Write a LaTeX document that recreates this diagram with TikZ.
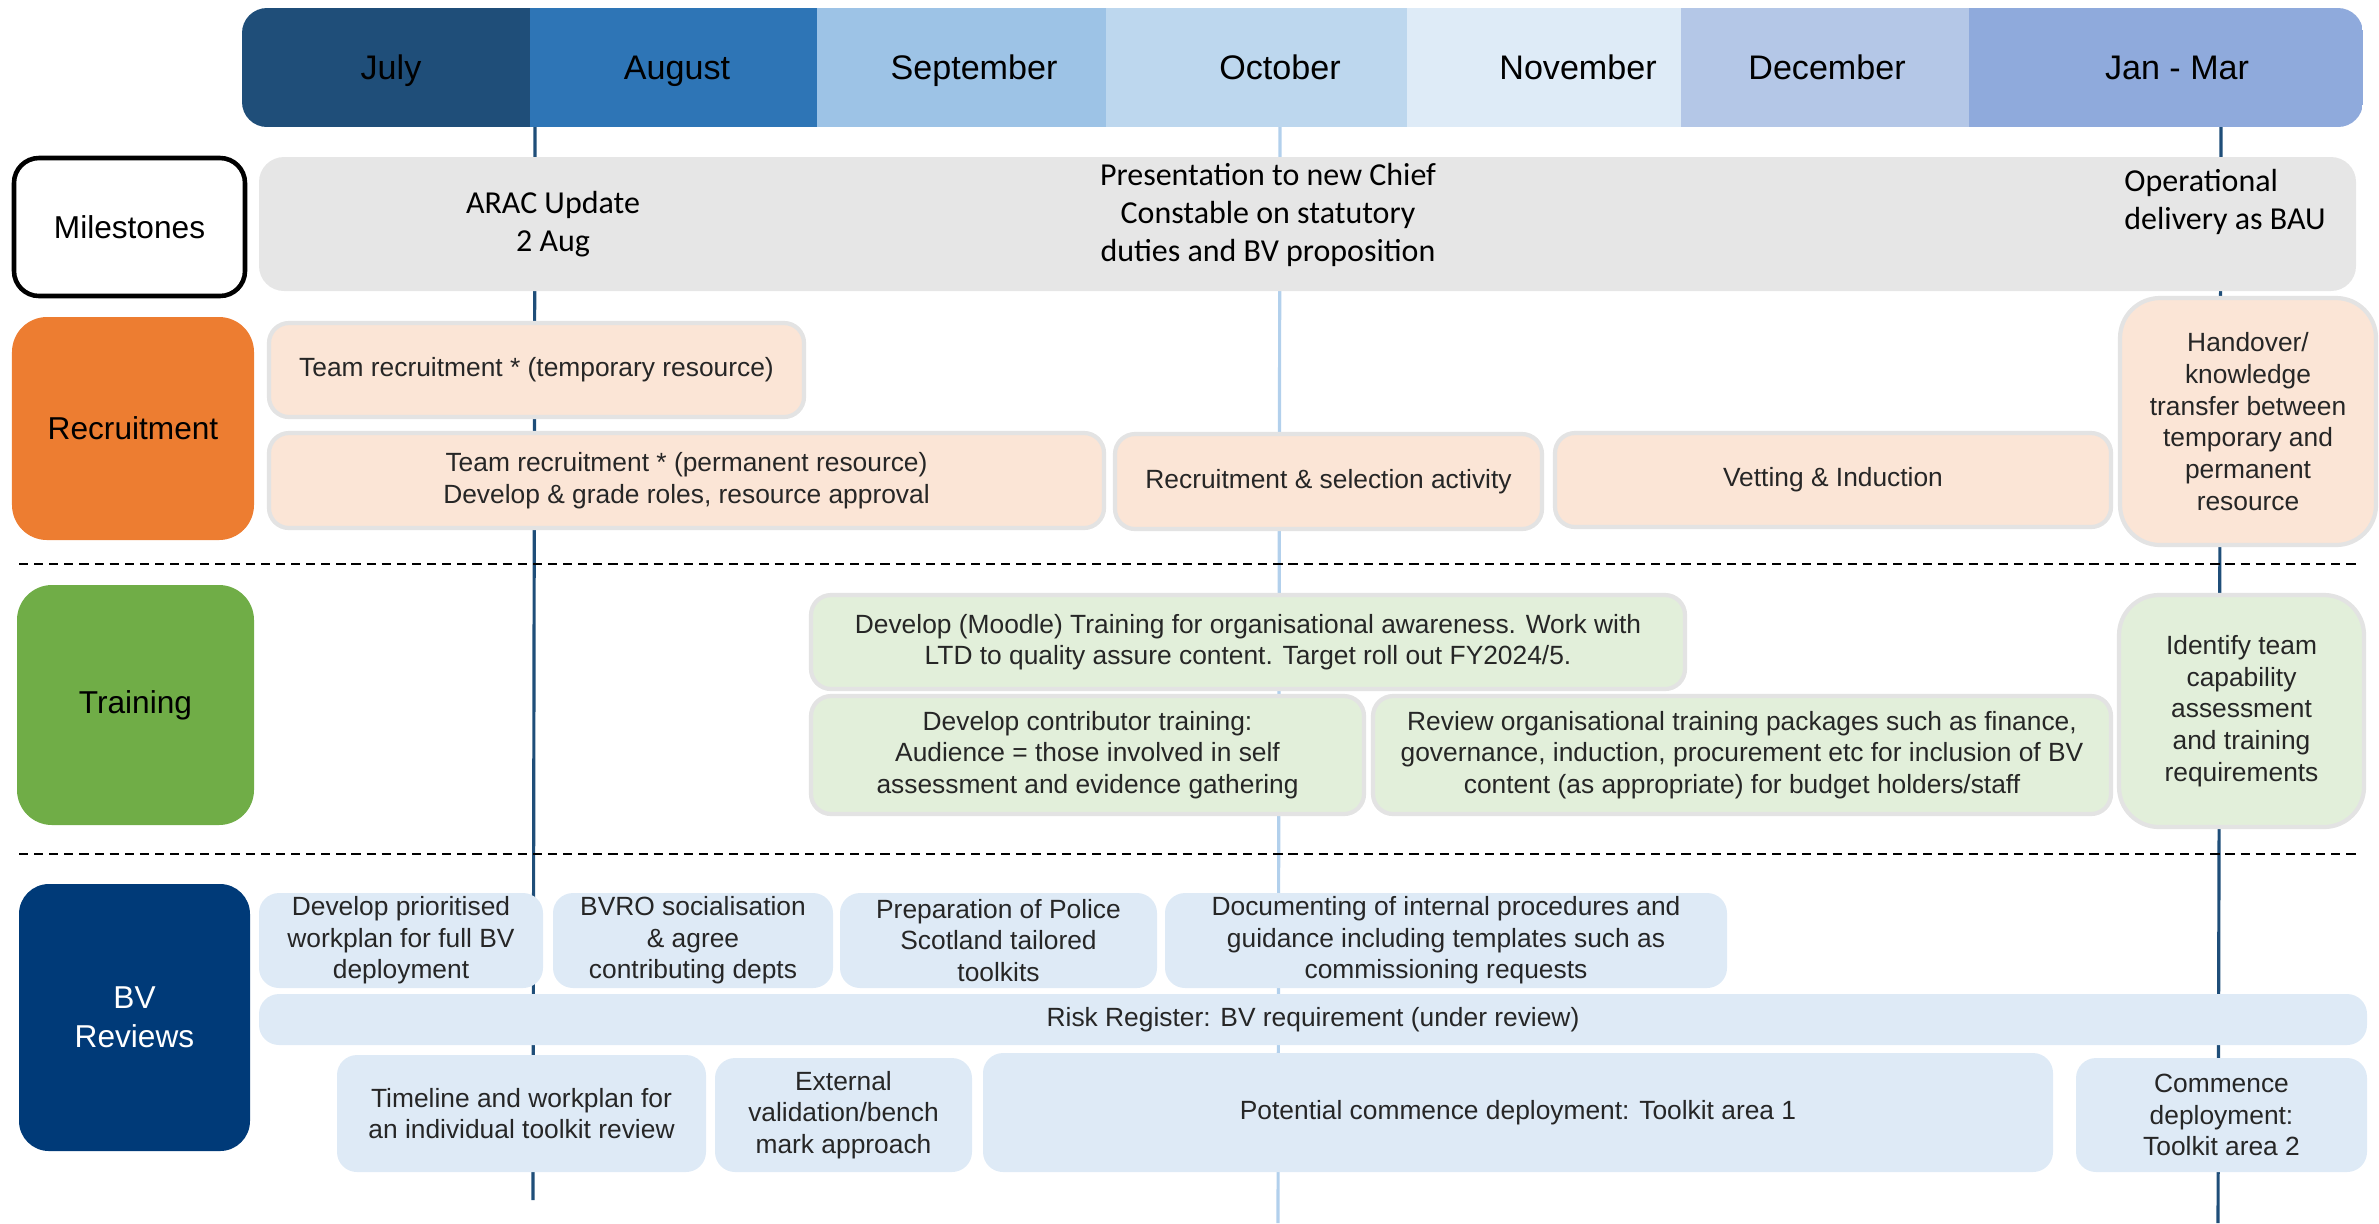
\documentclass[tikz,border=0pt]{standalone}
\usepackage{fontspec}
\setmainfont{Liberation Sans}
\newfontfamily\calibri{Carlito}
\usetikzlibrary{positioning}

\definecolor{julyblue}{HTML}{1F4E79}
\definecolor{augblue}{HTML}{2E75B6}
\definecolor{sepblue}{HTML}{9DC3E6}
\definecolor{octblue}{HTML}{BDD7EE}
\definecolor{novblue}{HTML}{DEEBF7}
\definecolor{decblue}{HTML}{B4C7E7}
\definecolor{janblue}{HTML}{8FAADC}
\definecolor{markerblue}{HTML}{B2D0EC}
\definecolor{bandgrey}{HTML}{E6E6E6}
\definecolor{boxgrey}{HTML}{E3E3E3}
\definecolor{recorange}{HTML}{ED7D31}
\definecolor{recfill}{HTML}{FBE5D6}
\definecolor{traingreen}{HTML}{70AD47}
\definecolor{trainfill}{HTML}{E2EFDA}
\definecolor{bvnavy}{HTML}{003A78}
\definecolor{bvfill}{HTML}{DEEAF6}

\begin{document}
\begin{tikzpicture}[
      span/.style n args={4}{
          at={({((#1)+(#3))/2},{((#2)+(#4))/2})},
          minimum width={((#3)-(#1))*1cm},
          minimum height={((#2)-(#4))*1cm}
        },
      seg/.style={
          rectangle,
          inner sep=0pt
        },
      month/.style={
          anchor=base,
          font=\fontsize{9.7}{11.6}\selectfont,
          text=black
        },
      lane/.style={
          rectangle,
          rounded corners=3.5mm,
          align=center,
          inner sep=0pt,
          font=\fontsize{9}{11.2}\selectfont
        },
      milestone/.style={
          align=center,
          text=black,
          font=\calibri\fontsize{9.1}{10.8}\selectfont
        },
      item/.style={
          rectangle,
          rounded corners=2mm,
          align=center,
          inner sep=0pt,
          text=black!85,
          font=\fontsize{7.5}{9}\selectfont
        },
      recruit/.style={
          item,
          draw=boxgrey,
          line width=1.2pt,
          fill=recfill
        },
      train/.style={
          item,
          draw=boxgrey,
          line width=1.2pt,
          fill=trainfill
        },
      review/.style={
          item,
          fill=bvfill
        },
      marker/.style={
          line width=0.9pt
        },
      divider/.style={
          dash pattern=on 2.6pt off 1.7pt,
          line width=0.6pt
        }
    ]

    \useasboundingbox (0,0) rectangle (23.79,-12.23);

    % Month bar
    \begin{scope}
      \clip[rounded corners=2.5mm] (2.42,-0.08) rectangle (23.63,-1.27);
      \node[seg, fill=julyblue, span={2.42}{-0.08}{5.30}{-1.27}] (julseg) {};
      \node[seg, fill=augblue, span={5.30}{-0.08}{8.17}{-1.27}] (augseg) {};
      \node[seg, fill=sepblue, span={8.17}{-0.08}{11.06}{-1.27}] (sepseg) {};
      \node[seg, fill=octblue, span={11.06}{-0.08}{14.07}{-1.27}] (octseg) {};
      \node[seg, fill=novblue, span={14.07}{-0.08}{16.81}{-1.27}] (novseg) {};
      \node[seg, fill=decblue, span={16.81}{-0.08}{19.69}{-1.27}] (decseg) {};
      \node[seg, fill=janblue, span={19.69}{-0.08}{23.63}{-1.27}] (janseg) {};
    \end{scope}
    \node[month] (jul) at (3.91,-0.79) {July};
    \node[month] (aug) at (6.77,-0.79) {August};
    \node[month] (sep) at (9.74,-0.79) {September};
    \node[month] (oct) at (12.80,-0.79) {October};
    \node[month] (nov) at (15.78,-0.79) {November};
    \node[month] (dec) at (18.27,-0.79) {December};
    \node[month] (jan) at (21.77,-0.79) {Jan - Mar};

    % Milestone markers
    \coordinate (aug top) at (5.35,-1.27);
    \coordinate (aug end) at (5.33,-12.00);
    \coordinate (oct top) at (12.80,-1.27);
    \coordinate (oct end) at (12.78,-12.23);
    \coordinate (jan top) at (22.21,-1.27);
    \coordinate (jan end) at (22.18,-12.23);
    \draw[marker, julyblue] (aug top) -- (aug end);
    \draw[marker, markerblue] (oct top) -- (oct end);
    \draw[marker, julyblue] (jan top) -- (jan end);

    % Lane dividers
    \coordinate (div1 w) at (0.19,-5.64);
    \coordinate (div1 e) at (23.61,-5.64);
    \coordinate (div2 w) at (0.19,-8.54);
    \coordinate (div2 e) at (23.61,-8.54);
    \draw[divider] (div1 w) -- (div1 e);
    \draw[divider] (div2 w) -- (div2 e);

    % Lane titles
    \node[lane, draw=black, line width=1.3pt, fill=white, rounded corners=2.5mm,
      span={0.14}{-1.58}{2.45}{-2.96}] (milestones) {Milestones};
    \node[lane, fill=recorange, span={0.12}{-3.17}{2.54}{-5.40}] (recruitment) {Recruitment};
    \node[lane, fill=traingreen, span={0.17}{-5.85}{2.54}{-8.25}] (training) {Training};
    \node[lane, fill=bvnavy, text=white, rounded corners=3mm,
      span={0.19}{-8.84}{2.50}{-11.51}] (bvreviews) {BV\\Reviews};

    % Milestones
    \node[seg, rounded corners=2.5mm, fill=bandgrey, span={2.59}{-1.57}{23.56}{-2.91}] (band) {};
    \node[milestone] (arac) at (5.53,-2.24) {ARAC Update\\2 Aug};
    \node[milestone] (chief) at (12.68,-2.15) {Presentation to new Chief\\Constable on statutory\\duties and BV proposition};
    \node[milestone, align=left, anchor=west] (bau) at (21.12,-2.02) {Operational\\delivery as BAU};

    % Recruitment
    \node[recruit, span={2.69}{-3.23}{8.04}{-4.17}] (tempres) {Team recruitment * (temporary resource)};
    \node[recruit, span={2.69}{-4.33}{11.04}{-5.28}] (permres) {Team recruitment * (permanent resource)\\Develop \& grade roles, resource approval};
    \node[recruit, span={11.15}{-4.34}{15.42}{-5.29}] (selection) {Recruitment \& selection activity};
    \node[recruit, span={15.55}{-4.33}{21.11}{-5.27}] (vetting) {Vetting \& Induction};
    \node[recruit, rounded corners=4mm, span={21.20}{-2.98}{23.76}{-5.45}] (handover) {Handover/\\knowledge\\transfer between\\temporary and\\permanent\\resource};

    % Training
    \node[train, span={8.11}{-5.95}{16.85}{-6.89}] (moodle) {Develop (Moodle) Training for organisational awareness. Work with\\LTD to quality assure content. Target roll out FY2024/5.};
    \node[train, span={8.11}{-6.96}{13.64}{-8.14}] (contrib) {Develop contributor training:\\Audience = those involved in self\\assessment and evidence gathering};
    \node[train, span={13.73}{-6.96}{21.11}{-8.14}] (packages) {Review organisational training packages such as finance,\\governance, induction, procurement etc for inclusion of BV\\content (as appropriate) for budget holders/staff};
    \node[train, rounded corners=4mm, span={21.19}{-5.95}{23.64}{-8.27}] (capability) {Identify team\\capability\\assessment\\and training\\requirements};

    % BV reviews
    \node[review, span={2.59}{-8.93}{5.43}{-9.88}] (workplan) {Develop prioritised\\workplan for full BV\\deployment};
    \node[review, span={5.53}{-8.93}{8.33}{-9.88}] (bvro) {BVRO socialisation\\\& agree\\contributing depts};
    \node[review, span={8.40}{-8.93}{11.57}{-9.88}] (toolkits) {Preparation of Police\\Scotland tailored\\toolkits};
    \node[review, span={11.65}{-8.93}{17.27}{-9.88}] (procedures) {Documenting of internal procedures and\\guidance including templates such as\\commissioning requests};
    \node[review, span={2.59}{-9.94}{23.67}{-10.45}] (risk) {Risk Register: BV requirement (under review)};
    \node[review, span={3.37}{-10.55}{7.06}{-11.72}] (timeline) {Timeline and workplan for\\an individual toolkit review};
    \node[review, span={7.15}{-10.58}{9.72}{-11.72}] (external) {External\\validation/bench\\mark approach};
    \node[review, span={9.83}{-10.53}{20.53}{-11.72}] (area1) {Potential commence deployment: Toolkit area 1};
    \node[review, span={20.76}{-10.58}{23.67}{-11.72}] (area2) {Commence\\deployment:\\Toolkit area 2};
  \end{tikzpicture}
\end{document}
